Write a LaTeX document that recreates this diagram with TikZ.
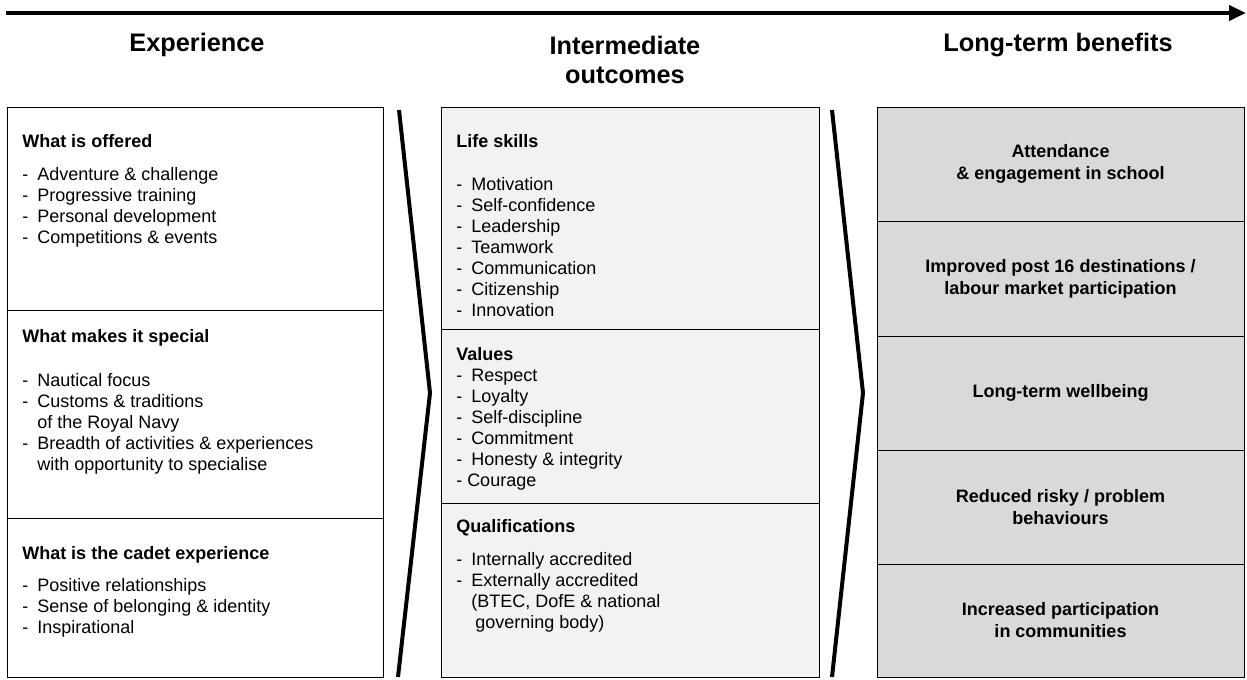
\documentclass[tikz,border=0pt]{standalone}
\usepackage{fontspec}
\setmainfont{Liberation Sans}
\usepackage{tikz}
\usetikzlibrary{arrows.meta}
\usetikzlibrary{positioning}

\definecolor{outcomegrey}{RGB}{242,242,242}
\definecolor{benefitgrey}{RGB}{217,217,217}

\newcommand{\dashitem}[1]{\makebox[11.25pt][l]{-}#1}
\newcommand{\dashindent}{\hspace*{11.25pt}}

\tikzset{
  cell/.style={draw=black, line width=0.75pt, anchor=north west, inner sep=0pt, outer sep=0pt},
  heading/.style={font=\fontsize{19}{21.75}\selectfont\bfseries, align=center},
  boxtitle/.style={font=\fontsize{13.5}{15.75}\selectfont\bfseries, anchor=base west, inner sep=0pt},
  boxlist/.style={font=\fontsize{13.5}{15.75}\selectfont, align=left, anchor=north west, inner sep=0pt},
  benefit/.style={cell, fill=benefitgrey, minimum width=275.25pt, font=\fontsize{13.5}{16.5}\selectfont\bfseries, align=center},
  chevron/.style={line width=3pt},
}

\begin{document}
\begin{tikzpicture}[x=0.75pt,y=0.75pt,yscale=-1,xscale=1]
\useasboundingbox (0,0) rectangle (1247,679);

%Straight Lines: time arrow
\coordinate (arrstart) at (6,13);
\coordinate (arrend) at (1246,13);
\draw [line width=3.5pt, -{Triangle[length=12.75pt,width=11.25pt]}] (arrstart) -- (arrend);

% Text Node: headings
\node [heading] (hexp) at (197,45) {Experience};
\node [heading] (hmid) at (625,59.5) {Intermediate\\outcomes};
\node [heading] (hben) at (1058,45) {Long-term benefits};

%Shape: Rectangle, experience column
\node [cell, minimum width=282pt, minimum height=152.25pt] (exp1) at (7,107) {};
\node [cell, minimum width=282pt, minimum height=156pt] (exp2) at (7,310) {};
\node [cell, minimum width=282pt, minimum height=119.25pt] (exp3) at (7,518) {};

% Text Node
\node [boxtitle] (offeredtitle) at (22,147) {What is offered};
\node [boxlist] (offered) at (22,167) {\dashitem{Adventure \& challenge}\\\dashitem{Progressive training}\\\dashitem{Personal development}\\\dashitem{Competitions \& events}};
% Text Node
\node [boxtitle] (specialtitle) at (22,342) {What makes it special};
\node [boxlist] (special) at (22,373) {\dashitem{Nautical focus}\\\dashitem{Customs \& traditions}\\\dashindent of the Royal Navy\\\dashitem{Breadth of activities \& experiences}\\\dashindent with opportunity to specialise};
% Text Node
\node [boxtitle] (cadettitle) at (22,559) {What is the cadet experience};
\node [boxlist] (cadet) at (22,578) {\dashitem{Positive relationships}\\\dashitem{Sense of belonging \& identity}\\\dashitem{Inspirational}};

%Shape: Rectangle, outcomes column
\node [cell, fill=outcomegrey, minimum width=283.5pt, minimum height=166.5pt] (mid1) at (441,107) {};
\node [cell, fill=outcomegrey, minimum width=283.5pt, minimum height=130.5pt] (mid2) at (441,329) {};
\node [cell, fill=outcomegrey, minimum width=283.5pt, minimum height=130.5pt] (mid3) at (441,503) {};

% Text Node
\node [boxtitle] (lifetitle) at (456,147) {Life skills};
\node [boxlist] (lifeskills) at (456,177) {\dashitem{Motivation}\\\dashitem{Self-confidence}\\\dashitem{Leadership}\\\dashitem{Teamwork}\\\dashitem{Communication}\\\dashitem{Citizenship}\\\dashitem{Innovation}};
% Text Node
\node [boxtitle] (valuestitle) at (456,360) {Values};
\node [boxlist] (values) at (456,369) {\dashitem{Respect}\\\dashitem{Loyalty}\\\dashitem{Self-discipline}\\\dashitem{Commitment}\\\dashitem{Honesty \& integrity}\\- Courage};
% Text Node
\node [boxtitle] (qualtitle) at (456,532) {Qualifications};
\node [boxlist] (quals) at (456,552) {\dashitem{Internally accredited}\\\dashitem{Externally accredited}\\\dashindent(BTEC, DofE \& national\\\dashindent\hspace*{3pt}governing body)};

%Shape: Rectangle, benefits column
\node [benefit, minimum height=85.5pt] (ben1) at (877,107) {Attendance\\\& engagement in school};
\node [benefit, minimum height=86.25pt] (ben2) at (877,221) {Improved post 16 destinations /\\labour market participation};
\node [benefit, minimum height=85.5pt] (ben3) at (877,336) {Long-term wellbeing};
\node [benefit, minimum height=85.5pt] (ben4) at (877,450) {Reduced risky / problem\\behaviours};
\node [benefit, minimum height=84.75pt] (ben5) at (877,564) {Increased participation\\in communities};

%Straight Lines: chevrons
\draw [chevron] (399,110) -- (430,393) -- (398,677);
\draw [chevron] (832,110) -- (863,393) -- (832,677);

\end{tikzpicture}
\end{document}
